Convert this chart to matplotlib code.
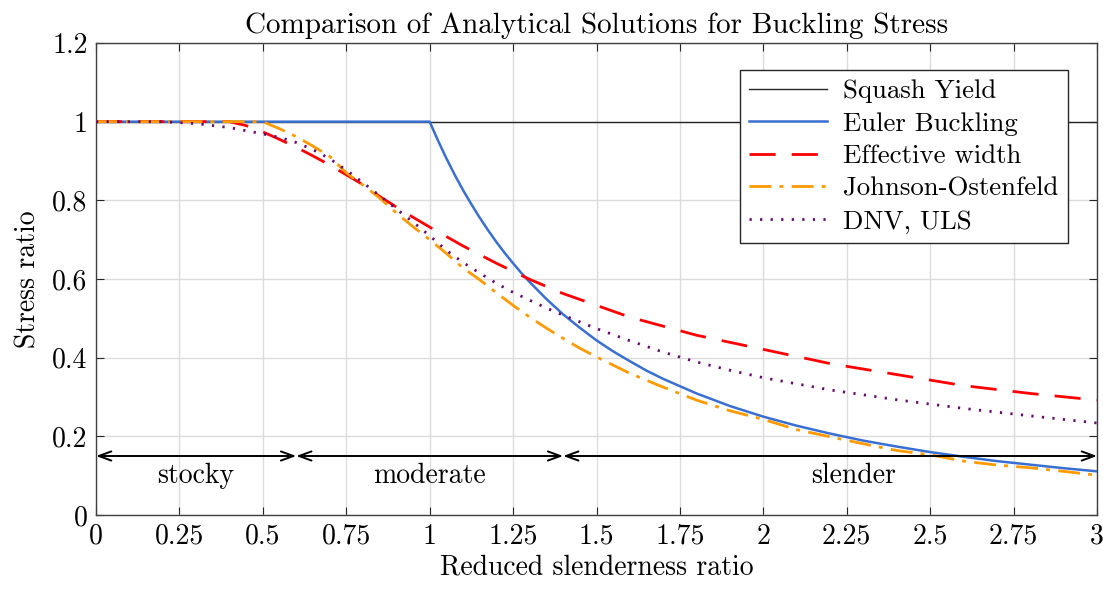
import matplotlib
matplotlib.use("Agg")
import matplotlib.pyplot as plt

# reduced slenderness vs. stress ratio
squash_x = [0, 3]
squash_y = [1, 1]

euler_x = [0, 1.0, 1.025, 1.05, 1.075, 1.1, 1.125, 1.15, 1.175, 1.2, 1.225, 1.25,
           1.275, 1.3, 1.35, 1.4, 1.45, 1.5, 1.55, 1.6, 1.65, 1.7, 1.8, 1.9, 2.0,
           2.1, 2.2, 2.3, 2.4, 2.5, 2.6, 2.7, 2.8, 2.9, 3.0]
euler_y = [1, 1, 0.952, 0.907, 0.865, 0.826, 0.790, 0.756, 0.724, 0.694, 0.666, 0.64,
           0.615, 0.592, 0.549, 0.51, 0.476, 0.444, 0.416, 0.391, 0.367, 0.346, 0.309,
           0.277, 0.25, 0.227, 0.207, 0.189, 0.174, 0.16, 0.148, 0.137, 0.128, 0.119,
           0.111]

effw_x = [0, 0.4, 0.45, 0.5, 0.55, 0.6, 0.65, 0.7, 0.75, 0.8, 0.85, 0.9, 0.95, 1.0,
          1.1, 1.2, 1.3, 1.4, 1.5, 1.6, 1.7, 1.8, 1.9, 2.0, 2.2, 2.4, 2.6, 2.8, 3.0]
effw_y = [1, 1.0, 0.99, 0.974, 0.955, 0.935, 0.913, 0.89, 0.865, 0.84, 0.81, 0.783,
          0.757, 0.732, 0.684, 0.64, 0.599, 0.563, 0.533, 0.503, 0.48, 0.457, 0.439,
          0.421, 0.385, 0.357, 0.329, 0.309, 0.292]

jo_x = [0, 0.5, 0.55, 0.6, 0.65, 0.7, 0.75, 0.8, 0.85, 0.9, 0.95, 1.0, 1.05, 1.1,
        1.15, 1.2, 1.25, 1.3, 1.35, 1.4, 1.45, 1.5, 1.6, 1.7, 1.8, 1.9, 2.0, 2.1,
        2.2, 2.3, 2.4, 2.5, 2.6, 2.7, 2.8, 2.9, 3.0]
jo_y = [1, 1.0, 0.982, 0.962, 0.938, 0.912, 0.870, 0.839, 0.806, 0.768, 0.733, 0.70,
        0.665, 0.628, 0.598, 0.565, 0.533, 0.503, 0.475, 0.449, 0.424, 0.402, 0.36,
        0.325, 0.292, 0.265, 0.243, 0.217, 0.199, 0.181, 0.164, 0.153, 0.137, 0.127,
        0.120, 0.111, 0.101]

dnv_x = [0, 0.2, 0.3, 0.4, 0.5, 0.55, 0.6, 0.65, 0.7, 0.75, 0.8, 0.85, 0.9, 0.95,
         1.0, 1.05, 1.1, 1.15, 1.2, 1.25, 1.3, 1.35, 1.4, 1.45, 1.5, 1.6, 1.7, 1.8,
         1.9, 2.0, 2.2, 2.4, 2.6, 2.8, 3.0]
dnv_y = [1, 1.0, 0.995, 0.985, 0.969, 0.960, 0.947, 0.929, 0.906, 0.877, 0.845, 0.812,
         0.778, 0.745, 0.710, 0.673, 0.642, 0.615, 0.589, 0.566, 0.546, 0.526, 0.508,
         0.491, 0.474, 0.443, 0.414, 0.389, 0.368, 0.349, 0.318, 0.293, 0.271, 0.252,
         0.234]

regions = ["stocky", "moderate", "slender"]
region_edges = [0, 0.6, 1.4, 3.0]
region_label_x = [0.3, 1.0, 2.27]

xticks = [0, 0.25, 0.5, 0.75, 1, 1.25, 1.5, 1.75, 2, 2.25, 2.5, 2.75, 3]
yticks = [0, 0.2, 0.4, 0.6, 0.8, 1, 1.2]

FS = 20

plt.rcParams["font.family"] = ["cmr10", "DejaVu Serif"]
plt.rcParams["font.size"] = FS
plt.rcParams["axes.formatter.use_mathtext"] = True

fig = plt.figure(figsize=(11.03, 5.90), dpi=100)
ax = fig.add_axes([96 / 1103, 1 - 515 / 590, 1001 / 1103, 472 / 590])

ax.plot(squash_x, squash_y, color="#262626", lw=1.0, label="Squash Yield", zorder=3)
ax.plot(euler_x, euler_y, color="#3a6fd2", lw=1.8, label="Euler Buckling", zorder=4)
ax.plot(effw_x, effw_y, color="#ff0000", lw=2.0, dashes=(9.4, 5.8),
        label="Effective width", zorder=5)
ax.plot(jo_x, jo_y, color="#ff9a00", lw=2.0, dashes=(7.9, 2.9, 1.4, 3.0),
        label="Johnson-Ostenfeld", zorder=5)
ax.plot(dnv_x, dnv_y, color="#660a6e", lw=2.0, dashes=(0.8, 3.0),
        label="DNV, ULS", zorder=6)

# slenderness regions
for i in range(len(regions)):
    ax.annotate("", xy=(region_edges[i], 0.15), xytext=(region_edges[i + 1], 0.15),
                arrowprops=dict(arrowstyle="<->, head_length=0.6, head_width=0.22",
                                lw=1.4, color="black", shrinkA=0, shrinkB=0,
                                mutation_scale=15), zorder=7)
    ax.text(region_label_x[i], 0.1, regions[i], ha="center", va="center", fontsize=FS)

ax.set_xlim(0, 3)
ax.set_ylim(0, 1.2)
ax.set_xticks(xticks)
ax.set_xticklabels(["%g" % t for t in xticks])
ax.set_yticks(yticks)
ax.set_yticklabels(["%g" % t for t in yticks])
ax.tick_params(direction="in", length=6, width=0.8, top=True, right=True,
               colors="#262626", labelcolor="black", pad=6, labelsize=FS)
ax.grid(True, color="#dcdcdc", lw=1.0)
ax.set_axisbelow(True)
for s in ax.spines.values():
    s.set_color("#404040")
    s.set_linewidth(1.0)

ax.set_title("Comparison of Analytical Solutions for Buckling Stress", fontsize=21, pad=7)
ax.set_xlabel("Reduced slenderness ratio", fontsize=FS, labelpad=3)
ax.set_ylabel("Stress ratio", fontsize=FS, labelpad=8)

leg = ax.legend(loc="upper right", bbox_to_anchor=(0.971, 0.943), borderaxespad=0,
                fancybox=False, framealpha=1, edgecolor="#262626", handlelength=2.9,
                handletextpad=0.6, labelspacing=0.33, borderpad=0.35, fontsize=19.3)
leg.get_frame().set_linewidth(1.0)

fig.savefig("out.png", dpi=100)
